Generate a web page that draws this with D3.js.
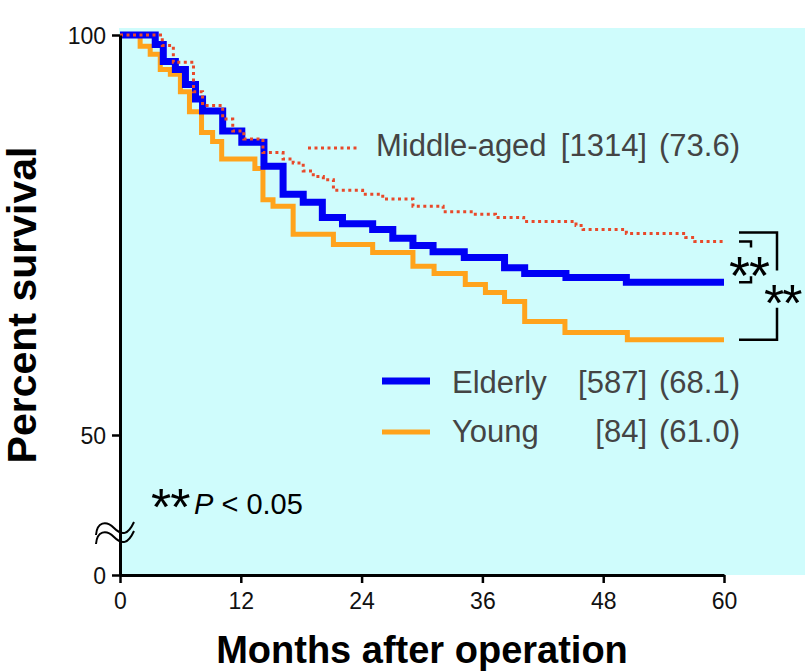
<!DOCTYPE html>
<html>
<head>
<meta charset="utf-8">
<script src="https://cdn.jsdelivr.net/npm/d3@7"></script>
<style>
  html, body { margin: 0; padding: 0; background: #fff; }
  svg { display: block; font-family: "Liberation Sans", Arial, Helvetica, sans-serif; }
</style>
</head>
<body>
<svg id="chart" width="805" height="672"></svg>
<script>
// ---- data (months, percent survival after each step) ----
const youngT = [2.0, 3.0, 4.0, 5.0, 6.0, 6.9, 8.1, 9.2, 10.1, 13.4, 14.2, 15.2, 17.2, 21.2, 25.1, 29.1, 31.2, 34.3, 36.3, 38.2, 40.2, 44.2, 50.4];
const youngS = [98.6, 97.6, 95.7, 95.1, 92.9, 90.4, 87.8, 86.7, 84.5, 83.3, 79.4, 78.6, 75.1, 73.8, 72.8, 71.1, 70.2, 68.8, 67.8, 66.7, 64.2, 62.8, 61.9];

const elderlyT = [3.5, 4.3, 5.5, 6.5, 7.5, 8.2, 10.2, 12.1, 14.3, 16.2, 18.2, 20.1, 22.1, 25.1, 27.1, 29.1, 31.1, 34.2, 38.2, 40.2, 44.3, 50.3];
const elderlyS = [98.8, 96.7, 95.7, 93.8, 92.0, 90.5, 88.0, 86.6, 83.6, 80.1, 79.1, 77.2, 76.4, 75.7, 74.6, 73.7, 72.9, 72.2, 70.9, 70.2, 69.7, 69.1];

const middleT = [4.2, 5.3, 7.3, 8.2, 10.2, 11.2, 12.3, 14.2, 16.2, 17.2, 18.2, 19.2, 20.2, 21.2, 24.1, 26.1, 29.1, 32.1, 35.1, 37.3, 40.1, 45.3, 46.0, 50.3, 56.2, 57.1];
const middleS = [98.7, 96.6, 92.9, 91.2, 89.5, 88.0, 87.0, 85.3, 84.5, 84.0, 83.0, 82.3, 81.9, 80.6, 80.1, 79.5, 78.6, 77.9, 77.6, 77.2, 76.7, 76.2, 75.7, 75.2, 74.7, 74.2];

const xTicks = [0, 12, 24, 36, 48, 60];
const yTicks = [0, 50, 100];
const seriesNames = ["Middle-aged", "Elderly", "Young"];
const seriesN = ["[1314]", "[587]", "[84]"];
const seriesMedian = ["(73.6)", "(68.1)", "(61.0)"];
const maxMonth = 60;

// ---- scales ----
const x = d3.scaleLinear().domain([0, 60]).range([120, 724]);
const y = d3.scaleLinear().domain([0, 50, 100]).range([575, 435, 35]);

const svg = d3.select("#chart");

// background
svg.append("rect").attr("x", 119).attr("y", 28).attr("width", 805 - 119).attr("height", 575 - 28)
  .attr("fill", "#cffcfc");

function steps(T, S) {
  const pts = [[0, 100]];
  T.forEach((t, i) => pts.push([t, S[i]]));
  pts.push([maxMonth, S[S.length - 1]]);
  return pts;
}
const line = d3.line().x(d => x(d[0])).y(d => y(d[1])).curve(d3.curveStepAfter);

// curves
svg.append("path").attr("d", line(steps(youngT, youngS)))
  .attr("fill", "none").attr("stroke", "#ffa31c").attr("stroke-width", 5);
svg.append("path").attr("d", line(steps(elderlyT, elderlyS)))
  .attr("fill", "none").attr("stroke", "#0000f5").attr("stroke-width", 7);
svg.append("path").attr("d", line(steps(middleT, middleS)))
  .attr("fill", "none").attr("stroke", "#e8492a").attr("stroke-width", 3)
  .attr("stroke-dasharray", "3,3.5");

// axes
const xAxis = svg.append("g").attr("transform", "translate(0,575)")
  .call(d3.axisBottom(x).tickValues(xTicks).tickSize(8).tickSizeOuter(0).tickPadding(6));
const yAxis = svg.append("g").attr("transform", "translate(120,0)")
  .call(d3.axisLeft(y).tickValues(yTicks).tickSize(8).tickSizeOuter(0).tickPadding(6));
[xAxis, yAxis].forEach(a => {
  a.attr("font-size", 23).attr("font-family", "'Liberation Sans', Arial, sans-serif");
  a.select(".domain").attr("stroke", "#000").attr("stroke-width", 3);
  a.selectAll(".tick line").attr("stroke", "#000").attr("stroke-width", 2.5);
  a.selectAll(".tick text").attr("fill", "#111").attr("font-size", 23);
});
xAxis.selectAll(".tick text").attr("dy", "0.85em");
yAxis.selectAll(".tick text").attr("dy", "0.36em");

// axis break symbol
[0, 9].forEach(off => {
  svg.append("path")
    .attr("d", `M96,${535 + off} C97,${522 + off} 106,${520 + off} 114,${528 + off} S128,${535 + off} 134,${522 + off}`)
    .attr("fill", "none").attr("stroke", "#000").attr("stroke-width", 2);
});

// axis titles
svg.append("text").attr("x", 422).attr("y", 663).attr("text-anchor", "middle")
  .attr("font-size", 38).attr("font-weight", "bold").attr("fill", "#000")
  .text("Months after operation");
svg.append("text").attr("transform", "translate(36,305) rotate(-90)").attr("text-anchor", "middle")
  .attr("font-size", 41).attr("font-weight", "bold").attr("fill", "#000")
  .text("Percent survival");

// legends
const txtColor = "#444";
const legendRows = [
  { name: 0, lx1: 308, lx2: 357, ly: 148, tx: 376, by: 156, color: "#e8492a", w: 3, dash: "3,3.5" },
  { name: 1, lx1: 382, lx2: 430, ly: 381, tx: 452, by: 393, color: "#0000f5", w: 7, dash: null },
  { name: 2, lx1: 382, lx2: 430, ly: 432, tx: 452, by: 442, color: "#ffa31c", w: 5, dash: null }
];
legendRows.forEach(r => {
  const l = svg.append("line").attr("x1", r.lx1).attr("x2", r.lx2).attr("y1", r.ly).attr("y2", r.ly)
    .attr("stroke", r.color).attr("stroke-width", r.w);
  if (r.dash) l.attr("stroke-dasharray", r.dash);
  svg.append("text").attr("x", r.tx).attr("y", r.by).attr("font-size", 31).attr("fill", txtColor)
    .text(seriesNames[r.name]);
  svg.append("text").attr("x", 647).attr("y", r.by).attr("text-anchor", "end").attr("font-size", 31)
    .attr("fill", txtColor).text(seriesN[r.name]);
  svg.append("text").attr("x", 659).attr("y", r.by).attr("font-size", 31).attr("fill", txtColor)
    .text(seriesMedian[r.name]);
});

// significance brackets
const yMid = y(middleS[middleS.length - 1]);
const yEld = y(elderlyS[elderlyS.length - 1]);
const yYng = y(youngS[youngS.length - 1]);
function bracket(d) {
  svg.append("path").attr("d", d).attr("stroke", "#000").attr("stroke-width", 2.5).attr("fill", "none");
}
// small bracket (middle vs elderly)
bracket(`M739,${yMid} H751 V${yMid + 6}`);
bracket(`M739,${yEld} H751 V${yEld - 6}`);
svg.append("text").attr("x", 729).attr("y", 294).attr("font-size", 54).attr("fill", "#000")
  .attr("letter-spacing", -1).text("**");
// large bracket (middle vs young)
const bigTop = yMid - 9;
bracket(`M739,${bigTop} H777 V${bigTop + 38}`);
bracket(`M739,${yYng} H777 V${yYng - 32}`);
svg.append("text").attr("x", 764).attr("y", 321).attr("font-size", 52).attr("fill", "#000")
  .attr("letter-spacing", -2).text("**");

// P-value note
svg.append("text").attr("x", 151).attr("y", 525).attr("font-size", 52).attr("fill", "#000")
  .attr("letter-spacing", -1).text("**");
const note = svg.append("text").attr("x", 194).attr("y", 514).attr("fill", "#000").attr("font-size", 29);
note.append("tspan").attr("font-style", "italic").text("P");
note.append("tspan").text(" < 0.05");
</script>
</body>
</html>
